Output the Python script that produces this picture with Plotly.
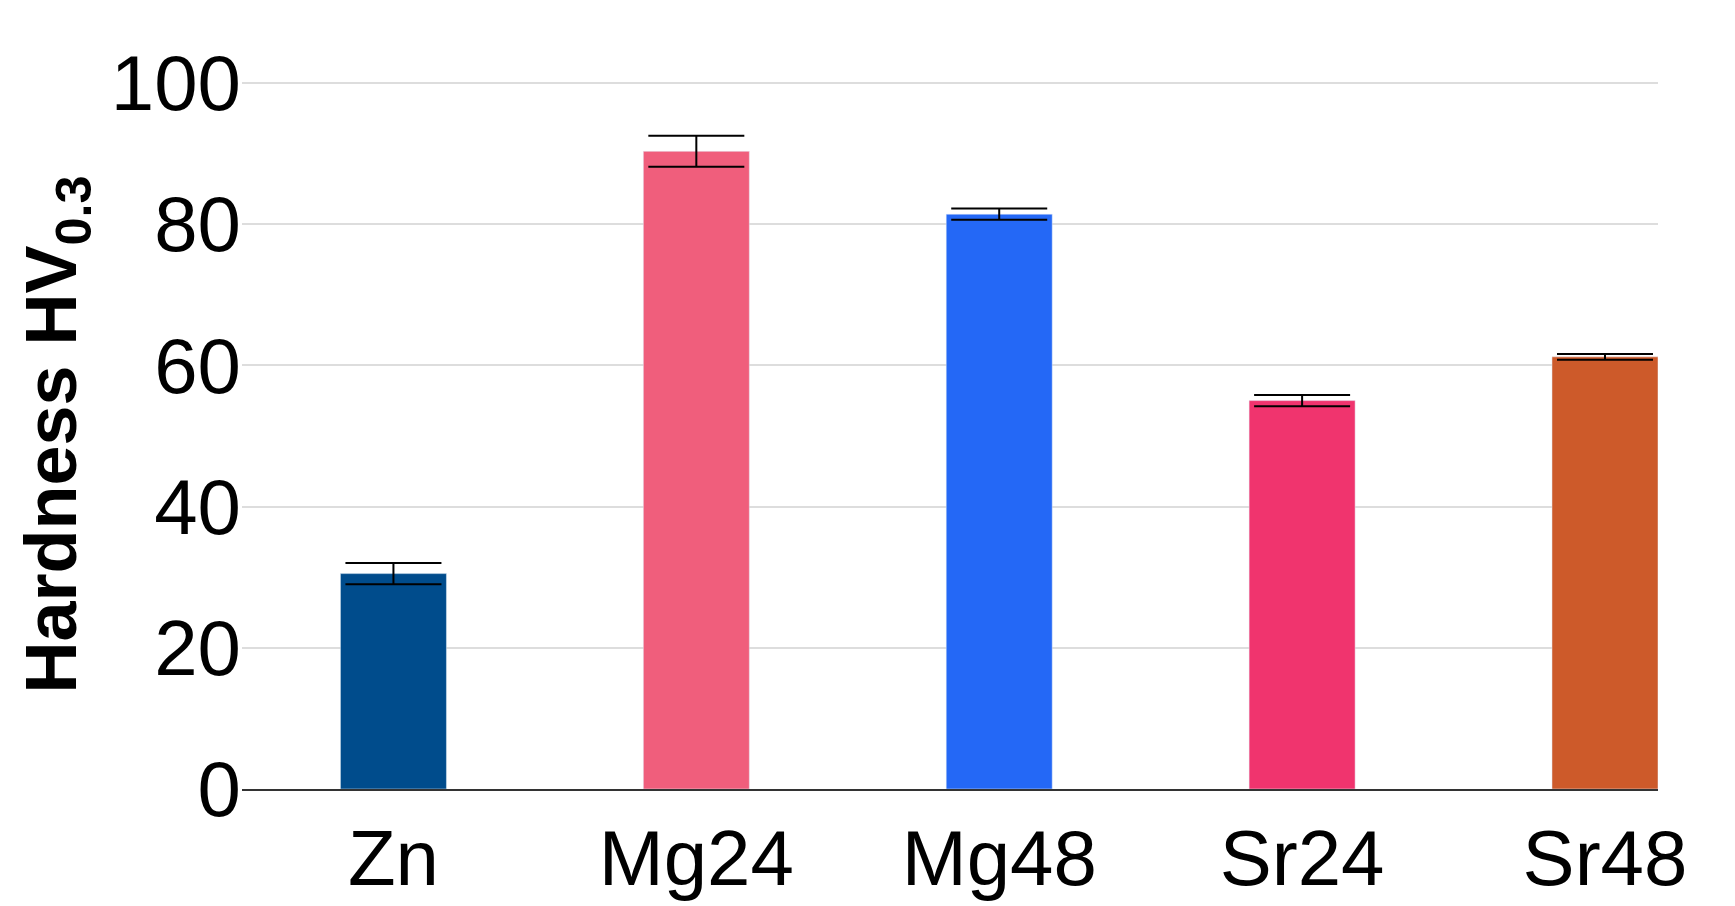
import plotly.graph_objects as go

categories = ["Zn", "Mg24", "Mg48", "Sr24", "Sr48"]
values = [30.5, 90.3, 81.4, 55.0, 61.2]
errors = [1.5, 2.2, 0.8, 0.8, 0.4]
colors = ["#004C8C", "#F05E7C", "#2468F6", "#F0346E", "#CD5A2A"]

fig = go.Figure(go.Bar(
    x=categories, y=values, marker_color=colors, width=0.35,
    error_y=dict(type="data", array=errors, color="black", thickness=2, width=48),
))
fig.update_layout(
    width=1735, height=906, plot_bgcolor="white", paper_bgcolor="white",
    margin=dict(l=234, r=85, t=72, b=125),
    font=dict(family="Liberation Sans, Arial", size=78, color="black"),
    showlegend=False,
)
fig.update_xaxes(range=[-0.5, 4.175], showline=True, linecolor="#333", linewidth=2, ticks="")
fig.update_yaxes(range=[0, 100.4], tickvals=[0, 20, 40, 60, 80, 100], showgrid=True,
                 gridcolor="#DDDDDD", gridwidth=2,
                 zeroline=False, ticks="", ticklen=0,
                 title=dict(text="<b>Hardness HV<sub>0.3</sub></b>", font=dict(size=72), standoff=10))
fig.write_html("out.html")
